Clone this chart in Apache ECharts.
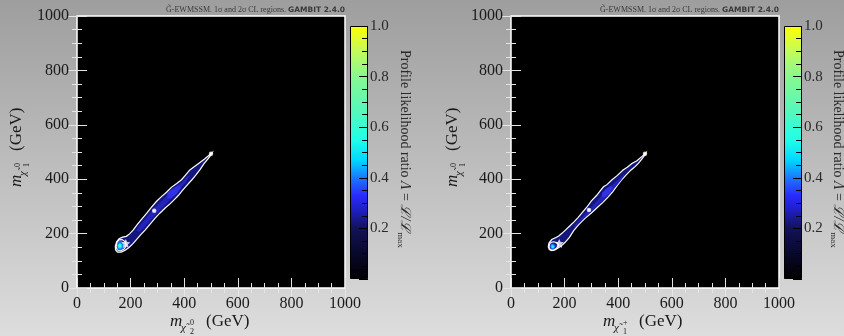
<!DOCTYPE html>
<html>
<head>
<meta charset="utf-8">
<script src="https://cdn.jsdelivr.net/npm/echarts@6/dist/echarts.min.js"></script>
<style>
  html, body { margin: 0; padding: 0; }
  #chart { width: 844px; height: 336px; }
</style>
</head>
<body>
<div id="chart"></div>
<script>
// axis ticks
const massTicks = [0, 1000, 200]          // min, max, step (GeV)
const lambdaTicks = [0, 1, 0.2]           // colour bar

// colour map of the profile likelihood ratio
const colourStops = [
  [0.0, '#000000'], [0.1, '#08082a'], [0.2, '#121258'], [0.27, '#1e1ec0'],
  [0.33, '#2a2aff'], [0.4, '#1a78ff'], [0.47, '#00d8ff'], [0.55, '#20ffe8'],
  [0.65, '#50f8c0'], [0.8, '#88f890'], [0.9, '#c4fb5c'], [1.0, '#ffff00']
]

// left panel: m_chi2^0 vs m_chi1^0 (GeV)
const outlineL = [
  [504, 497], [494, 489], [476, 474], [455, 459], [437, 446], [421, 434], [404, 414], [390, 398],
  [372, 384], [352, 370], [334, 352], [316, 337], [296, 318], [278, 297], [261, 276], [243, 255],
  [226, 235], [210, 214], [196, 199], [184, 190], [170, 187], [157, 181], [148, 170], [143, 154],
  [144, 140], [151, 132], [165, 132], [180, 139], [194, 149], [208, 162], [222, 178], [238, 196],
  [254, 213], [272, 234], [290, 255], [309, 275], [328, 293], [348, 310], [364, 326], [378, 340],
  [392, 357], [410, 377], [428, 397], [444, 416], [459, 435], [474, 457], [488, 474], [500, 489]
]
const coreL = [
  [232, 228], [262, 262], [290, 296], [318, 322], [345, 352], [368, 372], [392, 390], [412, 410],
  [420, 412], [405, 388], [382, 362], [360, 338], [335, 312], [305, 282], [276, 252], [248, 220],
  [230, 206], [222, 212]
]
const bulgeL = [[338, 350], [358, 366], [380, 378], [388, 368], [372, 346], [352, 330], [336, 330]]
const blobAzureL = [[147, 160], [148, 146], [155, 138], [167, 139], [177, 150], [176, 164], [166, 174], [154, 172]]
const blobCyanL = [[151, 157], [153, 147], [161, 144], [169, 150], [168, 161], [159, 166]]
const blobGreenL = [[154, 156], [157, 150], [163, 151], [164, 158], [158, 161]]
const sigma1L = [[149, 168], [146, 152], [150, 140], [162, 136], [176, 143], [184, 156], [180, 170], [168, 178], [156, 177]]
const islandsL = [[288, 284], [500, 494]]
const bestFitL = [[182, 164]]

// right panel: m_chi1^+ vs m_chi1^0 (GeV)
const outlineR = [
  [503, 497], [490, 485], [470, 468], [451, 458], [434, 444], [418, 434], [397, 414], [376, 397],
  [358, 380], [345, 372], [332, 356], [320, 341], [300, 320], [282, 296], [264, 275], [250, 259],
  [236, 244], [219, 228], [203, 213], [190, 201], [178, 191], [166, 185], [152, 178], [142, 166],
  [139, 152], [143, 141], [152, 137], [164, 140], [176, 147], [188, 155], [202, 168], [218, 186],
  [234, 211], [252, 232], [276, 256], [300, 276], [320, 294], [342, 314], [364, 336], [380, 354],
  [396, 376], [412, 397], [430, 416], [448, 434], [464, 447], [476, 459], [488, 474], [499, 488]
]
const coreR = [
  [238, 232], [268, 264], [300, 298], [330, 330], [352, 356], [372, 374], [400, 398], [422, 418],
  [424, 414], [404, 388], [380, 360], [350, 330], [318, 300], [290, 272], [258, 242], [236, 220]
]
const bulgeR = [[340, 350], [356, 366], [372, 376], [380, 366], [366, 346], [350, 334], [338, 336]]
const blobAzureR = [[146, 156], [148, 146], [156, 142], [164, 146], [166, 156], [158, 164], [150, 164]]
const blobCyanR = [[149, 154], [152, 147], [159, 146], [162, 153], [156, 159]]
const sigma1R = [[144, 162], [142, 150], [147, 141], [158, 139], [170, 146], [178, 156], [174, 166], [160, 170], [150, 168]]
const islandsR = [[291, 287], [500, 494]]
const bestFitR = [[180, 164]]

const serif = '"Liberation Serif", "DejaVu Serif", serif'
const star = 'path://M0,-10L2.9,-4L9.5,-3.1L4.7,1.5L5.9,8.1L0,5L-5.9,8.1L-4.7,1.5L-9.5,-3.1L-2.9,-4Z'

const chart = echarts.init(document.getElementById('chart'))

function polygon(axis, pts, style) {
  return {
    type: 'custom',
    xAxisIndex: axis,
    yAxisIndex: axis,
    data: pts,
    encode: { x: 0, y: 1 },
    silent: true,
    clip: true,
    renderItem: (params, api) => {
      if (params.dataIndex !== 0) return null
      return {
        type: 'polygon',
        shape: { points: pts.map((p) => api.coord(p)) },
        style: style,
      }
    },
  }
}

function massAxis(grid, pos, labels) {
  return {
    type: 'value',
    gridIndex: grid,
    position: pos,
    min: massTicks[0],
    max: massTicks[1],
    interval: massTicks[2],
    z: 5,
    axisLine: { show: false },
    splitLine: { show: false },
    axisTick: { show: true, inside: true, length: 10, lineStyle: { color: '#e4e4e4', width: 1 } },
    minorTick: { show: true, splitNumber: 4, length: 5, lineStyle: { color: '#e4e4e4', width: 1 } },
    axisLabel: {
      show: labels, margin: 8, color: '#1a1a1a', fontFamily: serif, fontSize: 16,
      formatter: (v) => String(v),
    },
  }
}

function lambdaAxis(grid) {
  return {
    type: 'value',
    gridIndex: grid,
    position: 'right',
    min: lambdaTicks[0],
    max: lambdaTicks[1],
    interval: lambdaTicks[2],
    z: 5,
    axisLine: { show: false },
    splitLine: { show: false },
    axisTick: { show: true, inside: true, length: 9, lineStyle: { color: '#000', width: 1 } },
    minorTick: { show: true, splitNumber: 4, length: 6, lineStyle: { color: '#000', width: 1 } },
    axisLabel: {
      margin: 2,
      color: '#2a2a2a',
      fontFamily: serif,
      fontSize: 15,
      formatter: (v) => (v === 0 ? '' : v.toFixed(1)),
    },
  }
}

function panelSeries(axis, cbAxis, d) {
  const white = { fill: 'none', stroke: '#ffffff', lineWidth: 1.1 }
  return [
    polygon(axis, d.outline, { fill: '#15157e', stroke: '#ffffff', lineWidth: 1.2 }),
    polygon(axis, d.core, { fill: '#2323bc' }),
    polygon(axis, d.bulge, { fill: '#3131e6' }),
    ...d.blobs.map((b) => polygon(axis, b[0], { fill: b[1] })),
    polygon(axis, d.sigma1, white),
    {
      type: 'scatter', xAxisIndex: axis, yAxisIndex: axis, data: d.islands, silent: true,
      symbol: 'emptyCircle', symbolSize: 2.5, itemStyle: { color: '#ffffff', borderColor: '#ffffff', borderWidth: 1 },
    },
    {
      type: 'scatter', xAxisIndex: axis, yAxisIndex: axis, data: d.best, silent: true, z: 6,
      symbol: star, symbolSize: 9, itemStyle: { color: '#ffffff' },
    },
    {
      type: 'bar', xAxisIndex: cbAxis, yAxisIndex: cbAxis, data: [1], barWidth: '100%', silent: true,
      itemStyle: {
        color: new echarts.graphic.LinearGradient(0, 1, 0, 0,
          colourStops.map((s) => ({ offset: s[0], color: s[1] }))),
        borderColor: '#000', borderWidth: 1,
      },
    },
  ]
}

function stackedLabel(x, y, rot, mid, sup, sub) {
  // m_{chi}^{sup}_{sub} (GeV), local frame along the reading direction
  const t = (tx, ty, text, size, italic) => ({
    type: 'text', x: tx, y: ty,
    style: {
      text: text, fill: '#1a1a1a', fontFamily: serif, fontSize: size,
      fontStyle: italic ? 'italic' : 'normal', align: 'left', verticalAlign: 'middle',
    },
  })
  return {
    type: 'group', x: x, y: y, rotation: rot,
    children: [
      t(0, 0, 'm', 17, true),
      t(11, 6, mid, 11, true),
      t(20, 1, sup, 8, false),
      t(20, 10, sub, 8, false),
      t(36, 0, '(GeV)', 17, false),
    ],
  }
}

function titleText(x) {
  return {
    type: 'text', x: x, y: 10,
    style: {
      text: '{a|G\u0303-EWMSSM. 1\u03c3 and 2\u03c3 CL regions. }{b|GAMBIT 2.4.0}',
      align: 'right', verticalAlign: 'middle',
      rich: {
        a: { fontFamily: serif, fontSize: 8, fill: '#3a3a3a' },
        b: { fontFamily: '"DejaVu Sans", sans-serif', fontSize: 7.5, fontWeight: 'bold', fill: '#3a3a3a' },
      },
    },
  }
}

function barTitle(x) {
  return {
    type: 'text', x: x, y: 50, rotation: -Math.PI / 2,
    style: {
      text: '{a|Profile likelihood ratio }{i|\u039b}{a| = }{i|\u2112/\u2112}{s|max}',
      align: 'left', verticalAlign: 'middle',
      rich: {
        a: { fontFamily: serif, fontSize: 14, fill: '#2a2a2a', lineHeight: 18 },
        i: { fontFamily: serif, fontSize: 14, fontStyle: 'italic', fill: '#2a2a2a', lineHeight: 18 },
        s: { fontFamily: serif, fontSize: 9, fill: '#2a2a2a', lineHeight: 18, verticalAlign: 'bottom', padding: [6, 0, 0, 0] },
      },
    },
  }
}

const option = {
  backgroundColor: new echarts.graphic.LinearGradient(0, 0, 0, 1, [
    { offset: 0, color: '#9e9e9e' },
    { offset: 1, color: '#dddddd' },
  ]),
  animation: false,
  grid: [
    { left: 77, top: 16, width: 268, height: 272, show: true, backgroundColor: '#000', borderColor: '#fff', borderWidth: 1.5 },
    { left: 350, top: 26, width: 18, height: 253 },
    { left: 511, top: 16, width: 268, height: 272, show: true, backgroundColor: '#000', borderColor: '#fff', borderWidth: 1.5 },
    { left: 784, top: 26, width: 18, height: 253 },
  ],
  xAxis: [
    massAxis(0, 'bottom', true),
    { type: 'category', gridIndex: 1, data: ['\u039b'], show: false },
    massAxis(2, 'bottom', true),
    { type: 'category', gridIndex: 3, data: ['\u039b'], show: false },
    massAxis(0, 'top', false),
    massAxis(2, 'top', false),
  ],
  yAxis: [
    massAxis(0, 'left', true),
    lambdaAxis(1),
    massAxis(2, 'left', true),
    lambdaAxis(3),
    massAxis(0, 'right', false),
    massAxis(2, 'right', false),
  ],
  graphic: [
    titleText(345),
    titleText(779),
    stackedLabel(170, 322, 0, '\u03c7\u0303', '0', '2'),
    stackedLabel(603, 322, 0, '\u03c7\u0303', '+', '1'),
    stackedLabel(17, 187, Math.PI / 2, '\u03c7\u0303', '0', '1'),
    stackedLabel(453, 187, Math.PI / 2, '\u03c7\u0303', '0', '1'),
    barTitle(405),
    barTitle(838),
  ],
  series: [
    ...panelSeries(0, 1, {
      outline: outlineL, core: coreL, bulge: bulgeL,
      blobs: [[blobAzureL, '#1a70f0'], [blobCyanL, '#10e0f0'], [blobGreenL, '#60f8b0']],
      sigma1: sigma1L, islands: islandsL, best: bestFitL,
    }),
    ...panelSeries(2, 3, {
      outline: outlineR, core: coreR, bulge: bulgeR,
      blobs: [[blobAzureR, '#1a70f0'], [blobCyanR, '#20e8f0']],
      sigma1: sigma1R, islands: islandsR, best: bestFitR,
    }),
  ],
}

chart.setOption(option)
window.addEventListener('resize', () => chart.resize())
</script>
</body>
</html>
